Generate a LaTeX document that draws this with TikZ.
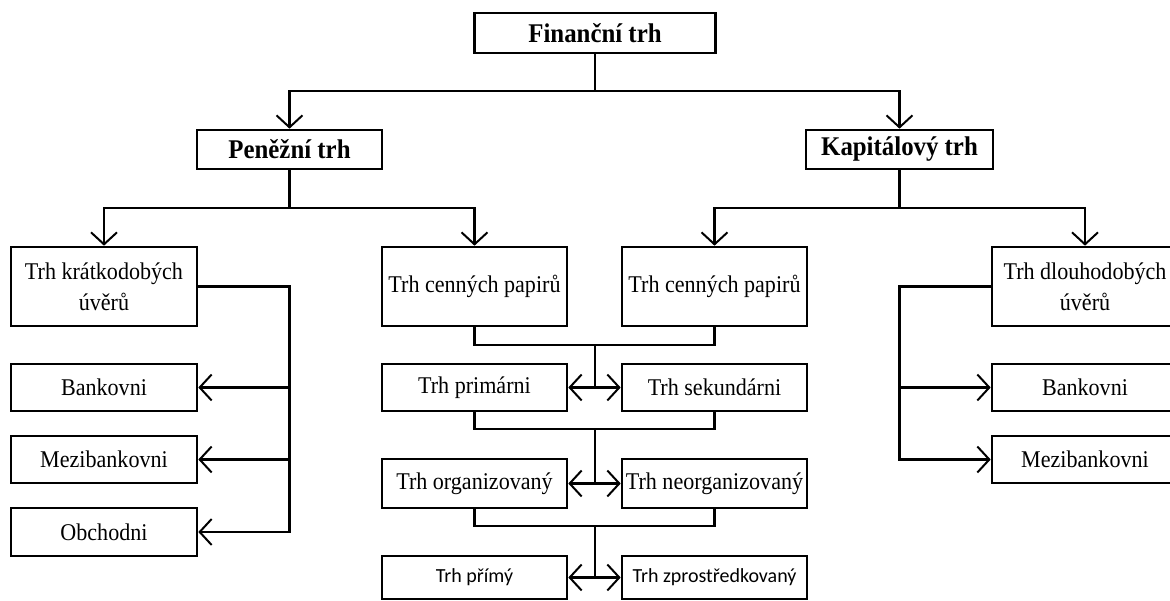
\documentclass[tikz,border=0pt]{standalone}
\usepackage{fontspec}
\setmainfont{Liberation Serif}[FakeStretch=0.92]
\newfontfamily\calib{Carlito}
\usetikzlibrary{arrows.meta}

\tikzset{
  box/.style={draw, line width=2.6pt, minimum width=185pt, minimum height=47pt,
    inner sep=0pt, align=center, font=\fontsize{24}{31}\selectfont},
  tall/.style={box, minimum height=79pt},
  head/.style={box, minimum height=39pt, font=\fontsize{27}{30}\selectfont\bfseries},
  sans/.style={box, minimum height=43pt, font=\fontsize{20}{24}\selectfont\calib},
  link/.style={line width=2.6pt},
  >={Straight Barb[length=12pt,width=26pt,line width=2pt]}
}

\begin{document}
\begin{tikzpicture}[x=1pt, y=-1pt]
  \useasboundingbox (0,0) rectangle (1170,601);

  % top levels
  \node[head, minimum width=241pt, minimum height=40pt] (fin) at (595,33) {Finanční trh};
  \node[head] (pen) at (289.5,149.5) {Peněžní trh};
  \node[head, minimum width=187pt] (kap) at (899.5,149.5) {Kapitálový trh};

  % third level
  \node[tall, minimum width=186pt] (kratk) at (104,286.5) {Trh krátkodobých\\úvěrů};
  \node[tall] (cpL) at (474.5,286.5) {Trh cenných papirů};
  \node[tall] (cpR) at (714.5,286.5) {Trh cenných papirů};
  \node[tall, minimum width=186pt] (dlouh) at (1085,286.5) {Trh dlouhodobých\\úvěrů};

  % left column
  \node[box, minimum width=186pt] (bankL) at (104,387.5) {Bankovni};
  \node[box, minimum width=186pt] (meziL) at (104,459.5) {Mezibankovni};
  \node[box, minimum width=186pt, minimum height=48pt] (obch) at (104,532) {Obchodni};

  % middle column
  \node[box] (prim) at (474.5,387.5) {Trh primárni};
  \node[box] (sek) at (714.5,387.5) {Trh sekundárni};
  \node[box, minimum height=49pt] (org) at (474.5,483.5) {Trh organizovaný};
  \node[box, minimum height=49pt] (neorg) at (714.5,483.5) {Trh neorganizovaný};
  \node[sans] (primy) at (474.5,577.5) {Trh přímý};
  \node[sans] (zpro) at (714.5,577.5) {Trh zprostředkovaný};

  % right column
  \node[box, minimum width=186pt] (bankR) at (1085,387.5) {Bankovni};
  \node[box, minimum width=186pt] (meziR) at (1085,459.5) {Mezibankovni};

  % junctions
  \coordinate (j0) at (595,91);
  \coordinate (jp) at (289.5,208);
  \coordinate (jk) at (899.5,208);
  \coordinate (vl) at (289.5,286.5);
  \coordinate (vr) at (899.5,286.5);
  \coordinate (jc1) at (595,345);
  \coordinate (jc2) at (595,429);
  \coordinate (jc3) at (595,526);

  \draw[link] (fin.south) -- (j0);
  \draw[link, ->] (j0) -| (pen.north);
  \draw[link, ->] (j0) -| (kap.north);

  \draw[link] (pen.south) -- (jp);
  \draw[link, ->] (jp) -| (kratk.north);
  \draw[link, ->] (jp) -| (cpL.north);
  \draw[link] (kap.south) -- (jk);
  \draw[link, ->] (jk) -| (cpR.north);
  \draw[link, ->] (jk) -| (dlouh.north);

  \draw[link, ->] (kratk.east) -- (vl) |- (obch.east);
  \draw[link, ->] (vl |- bankL.east) -- (bankL.east);
  \draw[link, ->] (vl |- meziL.east) -- (meziL.east);

  \draw[link, ->] (dlouh.west) -- (vr) |- (meziR.west);
  \draw[link, ->] (vr |- bankR.west) -- (bankR.west);

  \draw[link] (cpL.south) |- (jc1) -| (cpR.south);
  \draw[link, ->] (jc1) |- (prim.east);
  \draw[link, ->] (jc1) |- (sek.west);
  \draw[link] (prim.south) |- (jc2) -| (sek.south);
  \draw[link, ->] (jc2) |- (org.east);
  \draw[link, ->] (jc2) |- (neorg.west);
  \draw[link] (org.south) |- (jc3) -| (neorg.south);
  \draw[link, ->] (jc3) |- (primy.east);
  \draw[link, ->] (jc3) |- (zpro.west);
\end{tikzpicture}
\end{document}
